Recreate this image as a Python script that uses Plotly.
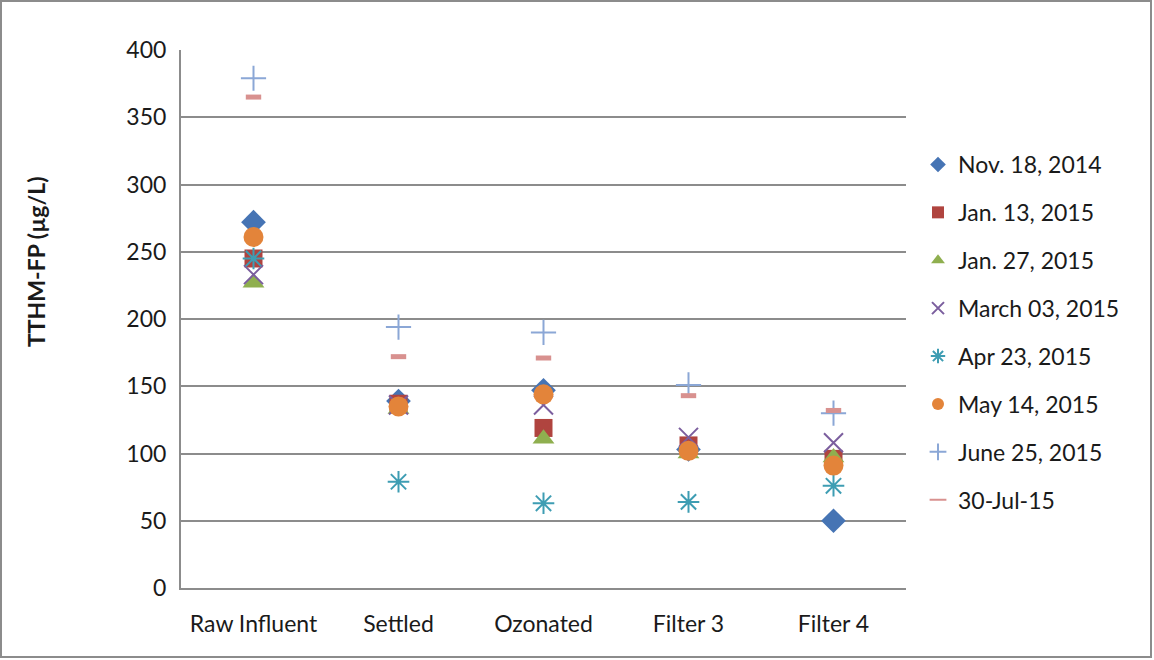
import plotly.graph_objects as go

# Treatment stages along the x axis
stages = ["Raw Influent", "Settled", "Ozonated", "Filter 3", "Filter 4"]

# TTHM formation potential (µg/L) for each sampling date
nov_18_2014 = [272, 139, 147, 103, 50]
jan_13_2015 = [245, 137, 119, 106, 96]
jan_27_2015 = [227, 133, 111, 100, 97]
mar_03_2015 = [233, 136, 136, 112, 108]
apr_23_2015 = [245, 79, 63, 64, 76]
may_14_2015 = [261, 135, 144, 102, 91]
jun_25_2015 = [379, 194, 190, 151, 130]
jul_30_2015 = [365, 172, 171, 143, 132]

series = [
    ("Nov. 18, 2014", nov_18_2014, dict(symbol="diamond", color="#4674B4", size=19)),
    ("Jan. 13, 2015", jan_13_2015, dict(symbol="square", color="#B0443F", size=18)),
    ("Jan. 27, 2015", jan_27_2015, dict(symbol="triangle-up", color="#8FAF4F", size=19)),
    ("March 03, 2015", mar_03_2015, dict(symbol="x-thin-open", color="#7B5E9E", size=19,
                                         line=dict(width=2, color="#7B5E9E"))),
    ("Apr 23, 2015", apr_23_2015, dict(symbol="asterisk-open", color="#3E9DB3", size=18,
                                       line=dict(width=2, color="#3E9DB3"))),
    ("May 14, 2015", may_14_2015, dict(symbol="circle", color="#E3843A", size=20)),
    ("June 25, 2015", jun_25_2015, dict(symbol="cross-thin-open", color="#8BA7D6", size=18,
                                        line=dict(width=2, color="#8BA7D6"))),
    ("30-Jul-15", jul_30_2015, dict(symbol="line-ew-open", color="#D8918F", size=11,
                                    line=dict(width=5, color="#D8918F"))),
]

fig = go.Figure()
for i, (name, values, marker) in enumerate(series):
    fig.add_trace(go.Scatter(
        x=stages, y=values, mode="markers", name=name,
        marker=marker, legendgroup=f"g{i}",
    ))

W, H = 1154, 660
ml, mr, mt, mb = 181, 248, 50, 72
pw, ph = W - ml - mr, H - mt - mb

font_family = "Lato, 'Open Sans', sans-serif"
fs = 23

fig.update_layout(
    width=W, height=H,
    margin=dict(l=ml, r=mr, t=mt, b=mb),
    paper_bgcolor="white", plot_bgcolor="white",
    font=dict(family=font_family, size=fs, color="#1a1a1a"),
    showlegend=True,
    legend=dict(
        x=(918 - ml) / pw, xanchor="left",
        y=(588 - 143) / ph, yanchor="top",
        font=dict(size=fs, color="#1a1a1a"),
        tracegroupgap=15, bgcolor="rgba(0,0,0,0)",
        itemsizing="constant",
    ),
    xaxis=dict(
        type="category", range=[-0.5, 4.5],
        showgrid=False, showline=True, linecolor="#8c8c8c", linewidth=2,
        ticks="", tickfont=dict(size=fs), ticklabelstandoff=14,
    ),
    yaxis=dict(
        range=[0, 400], dtick=50, tick0=0,
        showgrid=True, gridcolor="#8c8c8c", gridwidth=2,
        showline=True, linecolor="#8c8c8c", linewidth=2,
        zeroline=False, ticks="", tickfont=dict(size=fs),
        ticklabelstandoff=8,
    ),
    annotations=[dict(
        text="<b>TTHM-FP (µg/L)</b>", textangle=-90,
        xref="paper", yref="paper",
        x=(36 - ml) / pw, y=(588 - 262) / ph,
        xanchor="center", yanchor="middle", showarrow=False,
        font=dict(size=fs, color="#1a1a1a"),
    )],
    shapes=[dict(
        type="rect", xref="paper", yref="paper",
        x0=(1 - ml) / pw, x1=(W - 3 - ml) / pw,
        y0=-(H - 3 - (mt + ph)) / ph,
        y1=(mt + ph - 1) / ph,
        line=dict(color="#8c8c8c", width=2), fillcolor="rgba(0,0,0,0)", layer="below",
    )],
)

fig.write_html("out.html")
